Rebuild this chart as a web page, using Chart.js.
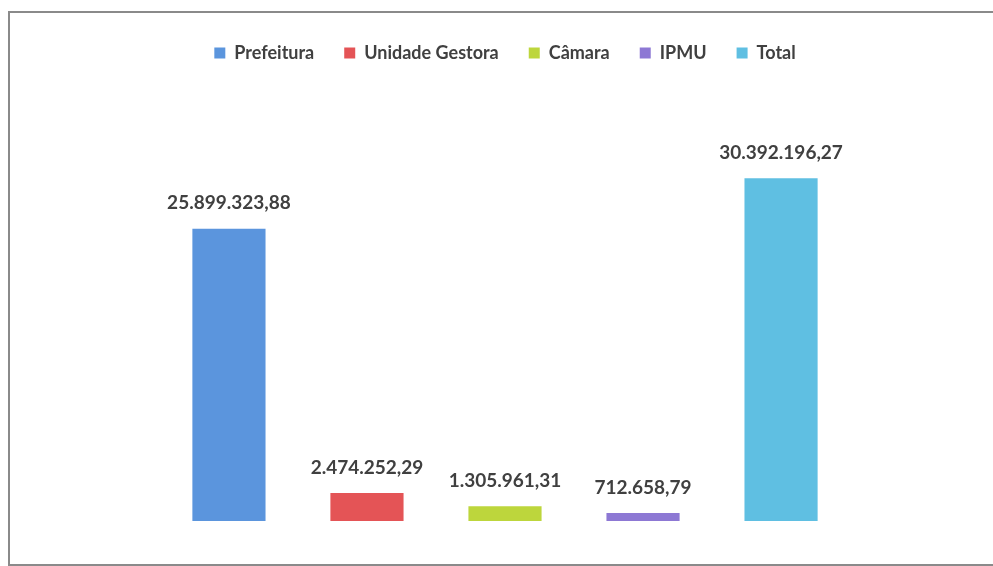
<!DOCTYPE html>
<html>
<head>
<meta charset="utf-8">
<script src="https://cdn.jsdelivr.net/npm/chart.js@4.4.0/dist/chart.umd.min.js"></script>
<style>
  html, body { margin: 0; padding: 0; background: #fff; }
  #wrap { position: relative; width: 993px; height: 566px; overflow: hidden; }
  #frame { position: absolute; left: 8px; top: 11px; width: 1100px; height: 551px; border: 2px solid #8a8a8a; }
  canvas { position: absolute; left: 0; top: 0; }
</style>
</head>
<body>
<div id="wrap">
  <div id="frame"></div>
  <canvas id="chart" width="993" height="566"></canvas>
</div>
<script>
const seriesNames  = ["Prefeitura", "Unidade Gestora", "Câmara", "IPMU", "Total"]
const seriesValues = [25899323.88, 2474252.29, 1305961.31, 712658.79, 30392196.27]
const seriesColors = ["#5b95dd", "#e45456", "#bdd63c", "#8d78d4", "#5fbfe2"]
const categories   = [""]

let datasets = []
for (let i = 0; i < seriesNames.length; i++) {
    datasets.push({
        label: seriesNames[i],
        data: [seriesValues[i]],
        backgroundColor: seriesColors[i],
        borderWidth: 0,
        barPercentage: 0.53,
        categoryPercentage: 0.852
    })
}

function fmt(v) {
    return v.toLocaleString("pt-BR", {minimumFractionDigits: 2, maximumFractionDigits: 2})
}

const valueLabels = {
    id: "valueLabels",
    afterDatasetsDraw(chart) {
        const ctx = chart.ctx
        ctx.save()
        ctx.font = "bold 19px Lato"
        ctx.fillStyle = "#404040"
        ctx.textAlign = "center"
        ctx.textBaseline = "bottom"
        chart.data.datasets.forEach((ds, i) => {
            const bar = chart.getDatasetMeta(i).data[0]
            ctx.fillText(fmt(ds.data[0]), bar.x, bar.y - 16)
        })
        ctx.restore()
    }
}

new Chart(document.getElementById("chart"), {
    type: "bar",
    data: { labels: categories, datasets: datasets },
    plugins: [valueLabels],
    options: {
        responsive: false,
        animation: false,
        layout: { padding: { top: 14, left: 100, right: 83, bottom: 45 } },
        plugins: {
            legend: {
                position: "top",
                labels: {
                    boxWidth: 11, boxHeight: 11,
                    padding: 30,
                    color: "#404040",
                    font: { family: "Lato", size: 18, weight: "bold" }
                }
            },
            tooltip: { enabled: false }
        },
        scales: {
            x: { display: false },
            y: { display: false, min: 0, max: 39800000 }
        }
    }
})
</script>
</body>
</html>
